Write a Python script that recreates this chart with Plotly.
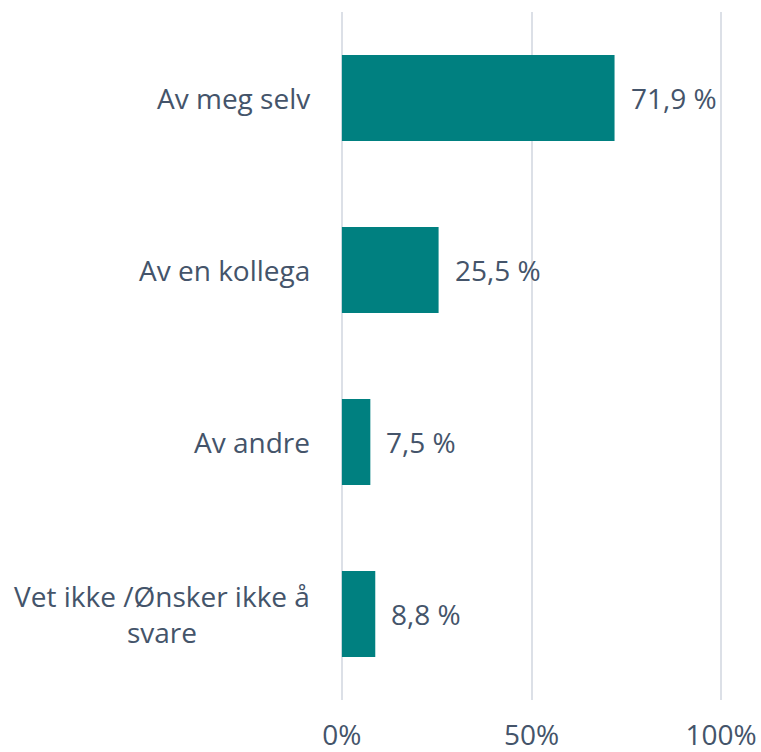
import plotly.graph_objects as go

categories = ["Av meg selv", "Av en kollega", "Av andre", "Vet ikke /Ønsker ikke å<br>svare"]
values = [71.9, 25.5, 7.5, 8.8]
value_labels = ["71,9 %", "25,5 %", "7,5 %", "8,8 %"]
tick_vals = [0, 50, 100]
tick_text = ["0%", "50%", "100%"]

TEXT = "#44546A"
BAR = "#008080"
FONT = "Open Sans"
FS = 28

fig = go.Figure(go.Bar(
    y=categories, x=values, orientation="h",
    marker=dict(color=BAR, line=dict(width=0)),
    width=0.5, hoverinfo="skip",
))

ann = []
for c, v, t in zip(categories, values, value_labels):
    ann.append(dict(x=v, y=c, xref="x", yref="y", text=t, showarrow=False,
                    xanchor="left", xshift=14, font=dict(size=FS, color=TEXT, family=FONT)))
    ann.append(dict(x=-0.5, y=c, xref="x", yref="y", text=c, showarrow=False,
                    xanchor="right", xshift=-28, align="center",
                    font=dict(size=FS, color=TEXT, family=FONT)))

fig.update_layout(
    template="none",
    width=761, height=752,
    margin=dict(l=340, r=38, t=12, b=52, autoexpand=False),
    paper_bgcolor="white", plot_bgcolor="white",
    showlegend=False,
    annotations=ann,
    xaxis=dict(range=[-0.5, 100.5], tickvals=tick_vals, ticktext=tick_text,
               showgrid=True, gridcolor="#DCE0E7", gridwidth=2,
               zeroline=False, showline=False, automargin=False,
               ticks="outside", ticklen=10, tickcolor="rgba(0,0,0,0)",
               ticklabeloverflow="allow",
               tickfont=dict(size=FS, color=TEXT, family=FONT)),
    yaxis=dict(categoryorder="array", categoryarray=categories[::-1],
               showticklabels=False, showgrid=False, zeroline=False,
               showline=False, automargin=False),
)

fig.write_html("out.html", config={"displayModeBar": False},
               post_script="document.body.style.margin='0';")
